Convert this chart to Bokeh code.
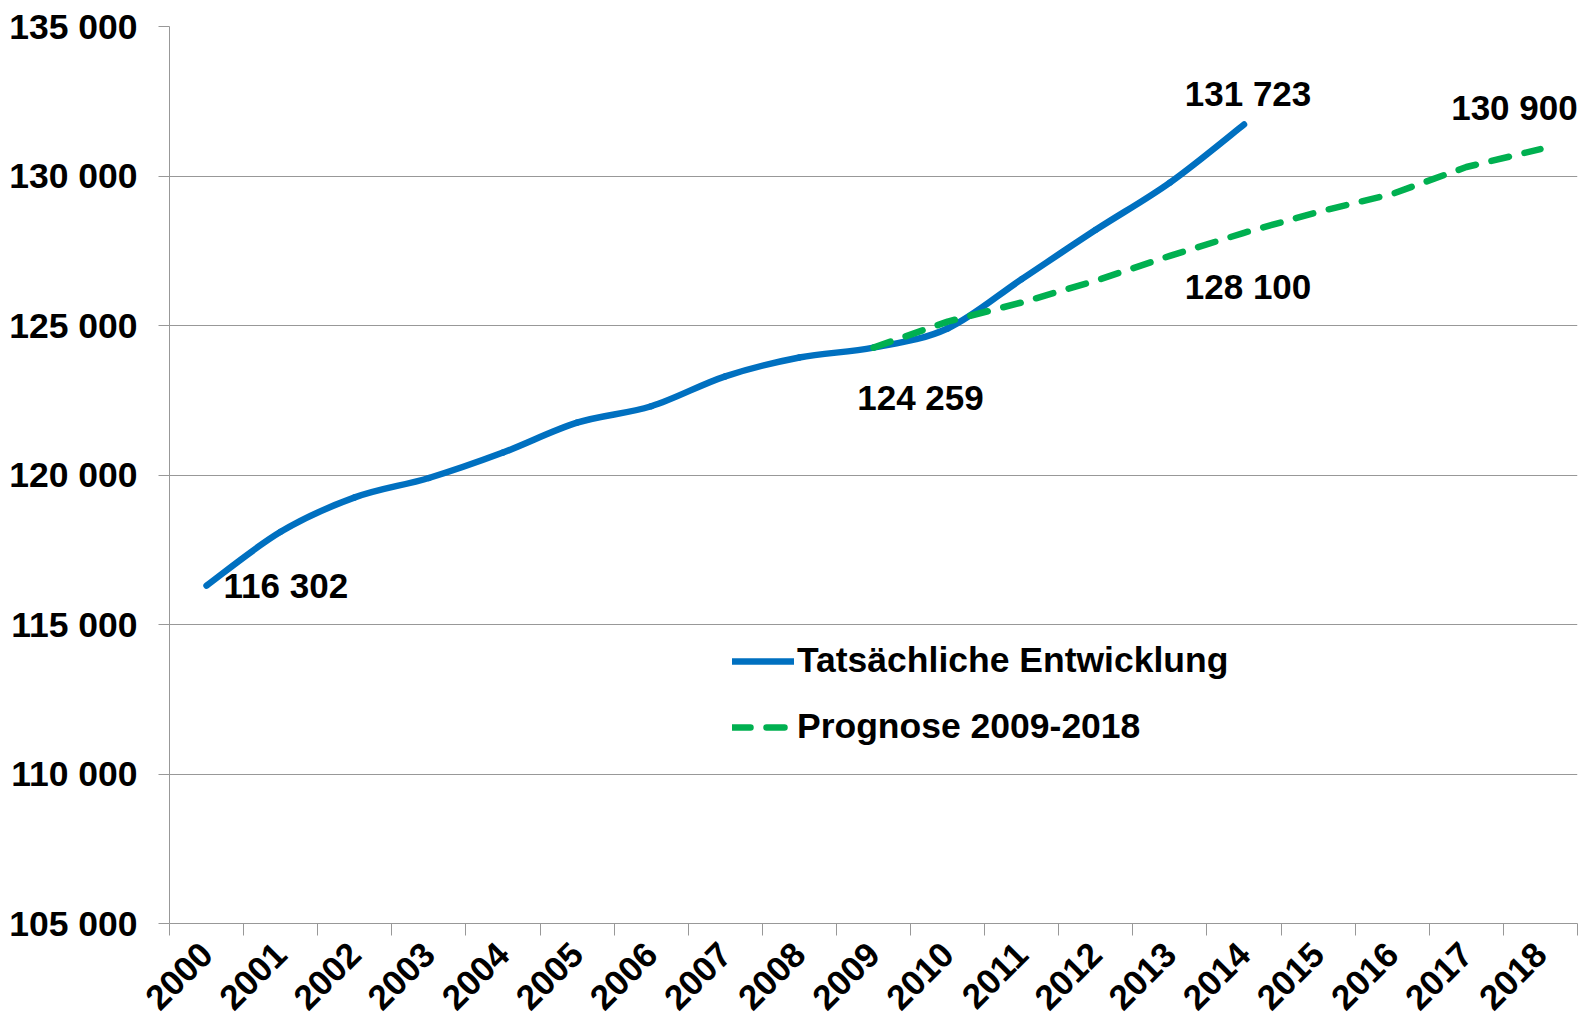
import math
from bokeh.plotting import figure
from bokeh.models import (Range1d, FixedTicker, Legend, LegendItem, Label, ColumnDataSource)
from bokeh.embed import file_html
from bokeh.resources import INLINE

# ---- data ----
years = ["2000", "2001", "2002", "2003", "2004", "2005", "2006", "2007", "2008", "2009",
         "2010", "2011", "2012", "2013", "2014", "2015", "2016", "2017", "2018"]
actual_years = years[:15]
actual = [116302, 118100, 119250, 119900, 120750, 121750, 122300, 123300, 123930, 124259,
          124900, 126550, 128200, 129780, 131723]
forecast_years = years[9:]
forecast = [124259, 125130, 125770, 126500, 127330, 128100, 128800, 129400, 130300, 130900]
y_ticks = [105000, 110000, 115000, 120000, 125000, 130000, 135000]
y_tick_labels = ["105 000", "110 000", "115 000", "120 000", "125 000", "130 000", "135 000"]
series_names = ["Tatsächliche Entwicklung", "Prognose 2009-2018"]

FONT = "Liberation Sans"
GRAY = "#989898"
BLUE = "#0070C0"
GREEN = "#00B050"

# category centres on a numeric scale (one unit per year)
pos = {y: years.index(y) + 0.5 for y in years}
centers = [pos[y] for y in years]
boundaries = list(range(len(years) + 1))

p = figure(width=1596, height=1023, output_backend="svg", toolbar_location=None,
           x_range=Range1d(0, len(years)), y_range=Range1d(y_ticks[0], y_ticks[-1]),
           min_border_left=169, min_border_right=19, min_border_top=26, min_border_bottom=100)
p.outline_line_color = None
p.background_fill_color = "white"
p.border_fill_color = "white"

# x axis
xa = p.xaxis[0]
xa.ticker = FixedTicker(ticks=centers, minor_ticks=boundaries)
xa.major_label_overrides = {pos[y]: y for y in years}
xa.major_tick_out = 0
xa.major_tick_in = 0
xa.minor_tick_out = 12
xa.minor_tick_in = 0
xa.minor_tick_line_color = GRAY
xa.axis_line_color = GRAY
xa.major_label_orientation = math.pi / 4
xa.major_label_standoff = 13
xa.major_label_text_font = FONT
xa.major_label_text_font_style = "bold"
xa.major_label_text_font_size = "35px"
xa.major_label_text_color = "black"

# y axis
ya = p.yaxis[0]
ya.ticker = FixedTicker(ticks=y_ticks)
ya.major_label_overrides = dict(zip(y_ticks, y_tick_labels))
ya.major_tick_out = 11
ya.major_tick_in = 0
ya.minor_tick_out = 0
ya.minor_tick_in = 0
ya.major_tick_line_color = GRAY
ya.axis_line_color = GRAY
ya.major_label_standoff = 21
ya.major_label_text_font = FONT
ya.major_label_text_font_style = "bold"
ya.major_label_text_font_size = "35.5px"
ya.major_label_text_color = "black"

p.xgrid.visible = False
p.ygrid.ticker = FixedTicker(ticks=y_ticks)
p.ygrid.grid_line_color = GRAY
p.ygrid.grid_line_width = 1

# smoothed actual line: cubic Bezier segments through the data points
ax = [pos[y] for y in actual_years]
ay = actual
n = len(ax)
seg = dict(x0=[], y0=[], x1=[], y1=[], cx0=[], cy0=[], cx1=[], cy1=[])
for i in range(n - 1):
    xp, yp = (ax[i - 1], ay[i - 1]) if i > 0 else (ax[i], ay[i])
    xn, yn = (ax[i + 2], ay[i + 2]) if i + 2 < n else (ax[i + 1], ay[i + 1])
    seg["x0"].append(ax[i]); seg["y0"].append(ay[i])
    seg["x1"].append(ax[i + 1]); seg["y1"].append(ay[i + 1])
    seg["cx0"].append(ax[i] + (ax[i + 1] - xp) / 6); seg["cy0"].append(ay[i] + (ay[i + 1] - yp) / 6)
    seg["cx1"].append(ax[i + 1] - (xn - ax[i]) / 6); seg["cy1"].append(ay[i + 1] - (yn - ay[i]) / 6)
src_a = ColumnDataSource(seg)
src_f = ColumnDataSource(dict(x=[pos[y] for y in forecast_years], y=forecast))

r_a = p.bezier("x0", "y0", "x1", "y1", "cx0", "cy0", "cx1", "cy1", source=src_a,
               line_color=BLUE, line_width=6.5, line_cap="round", line_join="round")
r_f = p.line("x", "y", source=src_f, line_color=GREEN, line_width=6.5,
             line_cap="round", line_join="round", line_dash="18 16")

legend = Legend(items=[LegendItem(label=series_names[0], renderers=[r_a]),
                       LegendItem(label=series_names[1], renderers=[r_f])],
                location=(563, 176), orientation="vertical",
                glyph_width=62, glyph_height=40, label_height=40, spacing=25,
                label_standoff=3, padding=0, margin=0,
                border_line_color=None, background_fill_alpha=0,
                label_text_font=FONT, label_text_font_style="bold",
                label_text_font_size="35.5px", label_text_color="black")
p.add_layout(legend, "center")


def fmt(v):
    return f"{v:,}".replace(",", " ")


def add_label(xv, yv, dx, dy, align):
    p.add_layout(Label(x=xv, y=yv, text=fmt(yv), x_offset=dx, y_offset=dy,
                       text_align=align, text_baseline="middle",
                       text_font=FONT, text_font_style="bold",
                       text_font_size="35px", text_color="black"))


i0 = actual_years.index("2000")
i9 = actual_years.index("2009")
i14 = actual_years.index("2014")
add_label(pos[actual_years[i0]], actual[i0], 17, 0, "left")
add_label(pos[actual_years[i9]], actual[i9], 47, -50, "center")
add_label(pos[actual_years[i14]], actual[i14], 4, 31, "center")
f14 = forecast_years.index("2014")
f18 = forecast_years.index("2018")
add_label(pos[forecast_years[f14]], forecast[f14], 4, -54, "center")
add_label(pos[forecast_years[f18]], forecast[f18], -26, 42, "center")

open("out.html", "w").write(file_html(p, INLINE))
